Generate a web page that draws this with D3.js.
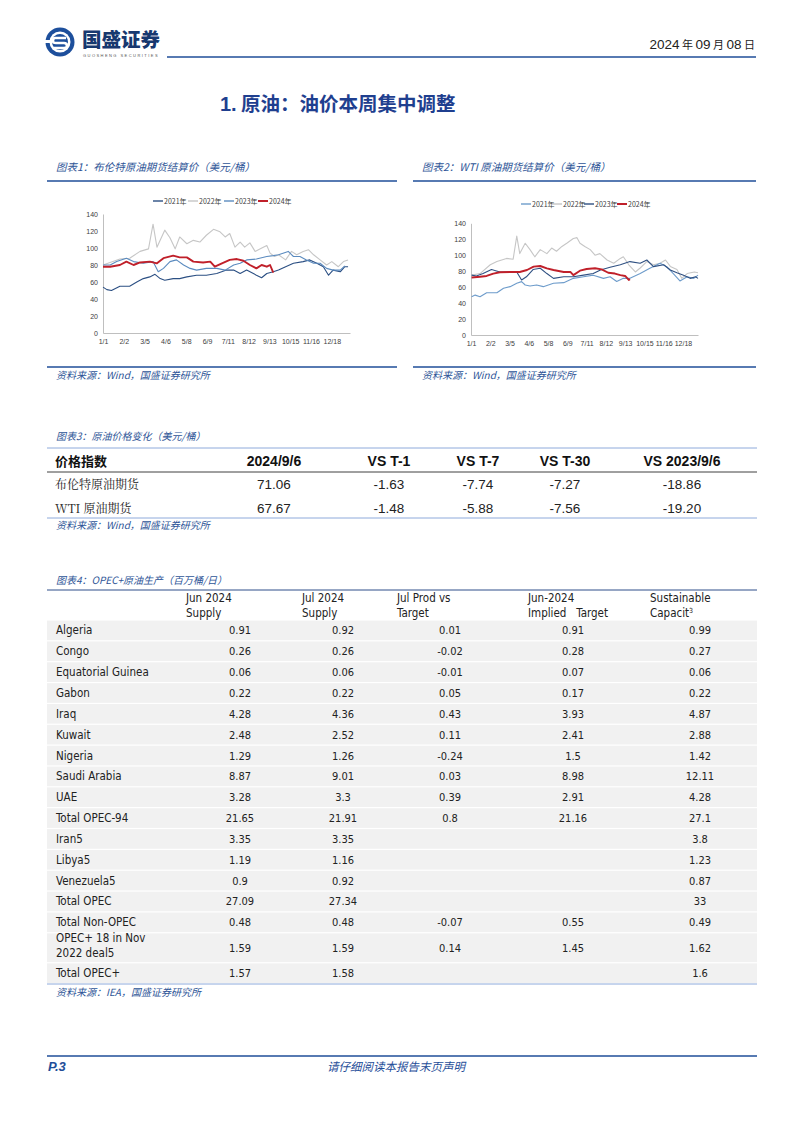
<!DOCTYPE html>
<html><head><meta charset="utf-8">
<script src="https://cdn.jsdelivr.net/npm/d3@7"></script>
<style>body{margin:0;background:#fff} svg{display:block} .pre{white-space:pre}</style>
</head><body>
<script>
// ---------- DATA ----------
const tickLabels = ["1/1","2/2","3/5","4/6","5/8","6/9","7/11","8/12","9/13","10/15","11/16","12/18"];
const tickDays   = [1,33,65,97,129,161,193,225,257,289,321,353];
const yTicks = [0,20,40,60,80,100,120,140];
const years = ["2021年","2022年","2023年","2024年"];

// Brent settlement [day-of-axis, USD/bbl]
const brent2021 = [[1,54],[7,51],[14,50],[27,55],[42,55],[53,60],[63,64],[73,66],[81,69],[89,64],[96,62],[109,64],[119,64],[130,66],[145,68],[160,68],[176,70],[191,74],[202,74],[212,70],[222,74],[237,68],[245,65],[253,70],[263,72],[271,74],[282,78],[294,82],[309,84],[319,86],[330,82],[340,78],[348,68],[355,74],[366,72],[373,78],[378,78]];
const brent2022 = [[1,80],[27,87],[42,88],[58,96],[71,99],[78,128],[84,101],[96,121],[104,112],[112,99],[119,113],[130,105],[140,109],[150,107],[160,115],[171,122],[181,119],[189,113],[196,117],[204,101],[212,107],[219,101],[227,106],[235,96],[243,99],[253,103],[258,94],[265,90],[271,92],[282,86],[291,96],[299,92],[309,96],[317,98],[325,92],[335,86],[345,80],[353,84],[363,78],[371,84],[378,86]];
const brent2023 = [[1,80],[12,80],[22,84],[37,88],[48,84],[63,82],[78,84],[86,72],[94,76],[104,84],[114,86],[125,80],[135,76],[145,74],[160,76],[176,76],[189,74],[202,80],[212,82],[222,86],[237,87],[253,90],[263,91],[271,92],[286,96],[294,90],[304,90],[314,86],[325,82],[335,82],[345,76],[355,74],[366,74],[373,79]];
const brent2024 = [[1,78],[12,78],[27,80],[37,84],[48,80],[58,83],[73,84],[84,82],[94,88],[109,91],[119,89],[130,89],[140,84],[155,83],[166,84],[173,78],[184,82],[196,86],[207,87],[217,85],[227,80],[237,76],[245,80],[253,78],[258,80],[263,71]];

// WTI settlement [day-of-axis, USD/bbl]
const wti2021 = [[2,48],[8,50],[16,48],[27,53],[44,53],[55,58.5],[66,60.6],[77,64.8],[85,66.9],[91,62.7],[99,61.4],[110,62.7],[121,60.6],[138,64.8],[155,65.6],[171,71],[188,73],[204,75],[221,71],[232,73],[243,67],[254,71],[265,71],[282,77],[298,83.6],[315,90],[326,85.7],[337,77],[348,67.7],[360,73],[371,71],[378,75]];
const wti2022 = [[2,75],[16,77],[33,88],[44,92],[60,96],[71,95],[77,124],[82,102],[91,115],[99,107],[107,98],[116,107],[127,102],[135,109],[143,105],[152,111],[160,115],[171,121],[177,122],[182,115],[190,111],[199,107],[207,100],[215,102],[227,94],[238,90],[249,96],[254,98],[263,88],[274,79],[282,84],[293,92],[304,88],[315,90],[324,94],[332,86],[343,82],[351,71],[360,77],[372,79],[378,78]];
const wti2023 = [[2,75],[10,74],[21,77],[35,82],[49,79],[66,79],[77,79],[85,69],[93,73],[104,82],[116,83.6],[127,77],[138,71],[155,73],[171,73],[188,75],[204,77],[216,81.5],[232,85],[249,88],[265,92],[282,90],[293,94],[304,85.7],[321,88],[332,81.5],[343,78],[354,75],[365,71],[374,73],[378,71]];
const wti2024 = [[2,72],[16,73],[27,74],[38,77],[49,78.6],[66,79],[82,79],[94,81.5],[105,85.7],[116,86.5],[127,83.6],[138,81.5],[155,79],[166,79],[171,75],[182,80.6],[193,82.7],[207,83.6],[218,82.3],[229,78],[240,77],[249,75],[257,74],[263,69],[265,70]];

// Table 3
const t3Header = ["价格指数","2024/9/6","VS T-1","VS T-7","VS T-30","VS 2023/9/6"];
const t3Names  = ["布伦特原油期货","WTI 原油期货"];
const t3Values = [[71.06,-1.63,-7.74,-7.27,-18.86],[67.67,-1.48,-5.88,-7.56,-19.20]];

// Table 4
const t4Header = [["Jun 2024","Supply"],["Jul 2024","Supply"],["Jul Prod vs","Target"],["Jun-2024","Implied   Target"],["Sustainable","Capacit"]];
const t4Names = ["Algeria","Congo","Equatorial Guinea","Gabon","Iraq","Kuwait","Nigeria","Saudi Arabia","UAE","Total OPEC-94","Iran5","Libya5","Venezuela5","Total OPEC","Total Non-OPEC","OPEC+ 18 in Nov|2022 deal5","Total OPEC+"];
const t4Values = [
 ["0.91","0.92","0.01","0.91","0.99"],
 ["0.26","0.26","-0.02","0.28","0.27"],
 ["0.06","0.06","-0.01","0.07","0.06"],
 ["0.22","0.22","0.05","0.17","0.22"],
 ["4.28","4.36","0.43","3.93","4.87"],
 ["2.48","2.52","0.11","2.41","2.88"],
 ["1.29","1.26","-0.24","1.5","1.42"],
 ["8.87","9.01","0.03","8.98","12.11"],
 ["3.28","3.3","0.39","2.91","4.28"],
 ["21.65","21.91","0.8","21.16","27.1"],
 ["3.35","3.35","","","3.8"],
 ["1.19","1.16","","","1.23"],
 ["0.9","0.92","","","0.87"],
 ["27.09","27.34","","","33"],
 ["0.48","0.48","-0.07","0.55","0.49"],
 ["1.59","1.59","0.14","1.45","1.62"],
 ["1.57","1.58","","","1.6"]
];

// ---------- DRAW ----------
const W=802,H=1133;
const BLUE="#1f4e99", TBLUE="#2e5597";
const CJK="'Noto Sans CJK SC','Noto Sans',sans-serif";
const SANS="'Liberation Sans',Arial,sans-serif";
const svg=d3.select("body").append("svg").attr("width",W).attr("height",H);
svg.append("rect").attr("width",W).attr("height",H).attr("fill","#fff");

// header logo
const lg=svg.append("g").attr("transform","translate(60,42)");
lg.append("circle").attr("r",14.5).attr("fill","#1d4f9c");
lg.append("circle").attr("r",10.5).attr("fill","#fff");
lg.append("circle").attr("r",8).attr("fill","#1d4f9c");
lg.append("path").attr("d","M6,-4 L-5,-4 Q-7,-4 -7,-1 Q-7,1 -4,1 L4,1 Q7,1 7,4 Q7,6 4,6 L-6,6").attr("fill","none").attr("stroke","#fff").attr("stroke-width",2.6);
lg.append("rect").attr("x",-16).attr("y",-2).attr("width",6).attr("height",3).attr("fill","#fff");
svg.append("text").attr("x",82).attr("y",47).text("国盛证券")
  .attr("font-family","'Noto Sans CJK SC'").attr("font-weight",900).attr("font-size",19.5).attr("fill","#17386f");
svg.append("text").attr("x",83).attr("y",57).text("GUOSHENG SECURITIES")
  .attr("font-family",SANS).attr("font-size",4).attr("letter-spacing",1.45).attr("fill","#555");
svg.append("line").attr("x1",167).attr("x2",756).attr("y1",57).attr("y2",57).attr("stroke",BLUE).attr("stroke-width",1.5);
const dt=svg.append("text").attr("x",755).attr("y",49).attr("text-anchor","end").attr("font-family",SANS).attr("font-size",13.5).attr("fill","#222").attr("class","pre");
[["2024",0],[" 年 ",1],["09",0],[" 月 ",1],["08",0],[" 日",1]].forEach(([s,c])=>{
  dt.append("tspan").text(s).attr("font-size",c?11:13.5).attr("font-family",c?CJK:SANS);
});

// section title
const st=svg.append("text").attr("x",220).attr("y",111).attr("fill","#1f3f8f").attr("font-weight","bold");
st.append("tspan").text("1.").attr("font-family",SANS).attr("font-size",20);
st.append("tspan").text(" 原油：油价本周集中调整").attr("font-family",CJK).attr("font-size",19.5);

function caption(x,y,text,size){
  svg.append("text").attr("x",x).attr("y",y).text(text).attr("font-family",CJK).attr("font-size",size||10.5)
    .attr("font-style","italic").attr("fill",TBLUE);
}
function hline(x1,x2,y,col,w){svg.append("line").attr("x1",x1).attr("x2",x2).attr("y1",y).attr("y2",y).attr("stroke",col).attr("stroke-width",w);}

// ---------- CHARTS ----------
function chart(opt){
  const g=svg.append("g");
  const x=d3.scaleLinear().domain([1,opt.xEnd]).range([opt.x0,opt.x1]);
  const y=d3.scaleLinear().domain([0,140]).range([opt.y0,opt.y1]);
  const ya=g.append("g").attr("transform",`translate(${opt.x0},0)`).call(d3.axisLeft(y).tickValues(yTicks).tickSize(0).tickPadding(5));
  ya.select(".domain").attr("stroke","#bfbfbf");
  ya.selectAll("text").attr("font-family",SANS).attr("font-size",7).attr("fill","#404040");
  const xa=g.append("g").attr("transform",`translate(0,${opt.y0})`).call(d3.axisBottom(x).tickValues(tickDays).tickFormat((d,i)=>tickLabels[i]).tickSize(0).tickPadding(6));
  xa.select(".domain").attr("stroke","#bfbfbf");
  xa.selectAll("text").attr("font-family",SANS).attr("font-size",7).attr("fill","#404040");
  const line=d3.line().x(d=>x(d[0])).y(d=>y(d[1]));
  [1,0,2,3].forEach(i=>{
    g.append("path").datum(opt.series[i]).attr("d",line).attr("fill","none")
      .attr("stroke",opt.colors[i]).attr("stroke-width",i===3?1.9:1.1).attr("stroke-linejoin","round");
  });
  years.forEach((yr,i)=>{
    const lx=opt.legX[i];
    g.append("line").attr("x1",lx).attr("x2",lx+10).attr("y1",opt.legY).attr("y2",opt.legY)
      .attr("stroke",opt.colors[i]).attr("stroke-width",i===3?2:1.4);
    g.append("text").attr("x",lx+11).attr("y",opt.legY+2.5).text(yr).attr("font-family",CJK).attr("font-size",7).attr("fill","#404040");
  });
}

caption(56,171,"图表1：布伦特原油期货结算价（美元/桶）");
hline(47,397,181,BLUE,1.3);
chart({x0:103,x1:350,xEnd:381,y0:333,y1:214,legY:201,legX:[153,188,224,258],
  series:[brent2021,brent2022,brent2023,brent2024],
  colors:["#2b4f83","#c6c6c6","#5b8bbf","#c0202a"]});
hline(47,397,367,BLUE,1.3);
caption(56,379,"资料来源：Wind，国盛证券研究所",10);

caption(422,171,"图表2：WTI 原油期货结算价（美元/桶）");
hline(413,756,181,BLUE,1.3);
chart({x0:471,x1:698,xEnd:378,y0:335,y1:223.3,legY:204,legX:[521,552,584,617],
  series:[wti2021,wti2022,wti2023,wti2024],
  colors:["#6e9ccb","#c6c6c6","#2f5082","#c0202a"]});
hline(413,756,367,BLUE,1.3);
caption(422,379,"资料来源：Wind，国盛证券研究所",10);

// ---------- TABLE 3 ----------
caption(56,440,"图表3：原油价格变化（美元/桶）",10);
hline(47,757,448,"#8eaadb",1);
const t3Cols=[274,389,478,565,682];
svg.append("text").attr("x",55).attr("y",466).text(t3Header[0]).attr("font-family",CJK).attr("font-weight","bold").attr("font-size",13).attr("fill","#111");
t3Header.slice(1).forEach((h,i)=>{
  svg.append("text").attr("x",t3Cols[i]).attr("y",466).attr("text-anchor","middle").text(h)
    .attr("font-family",SANS).attr("font-weight","bold").attr("font-size",14).attr("fill","#111");
});
hline(47,757,472,"#404040",1);
t3Names.forEach((n,r)=>{
  const yy=489+r*24;
  svg.append("text").attr("x",55).attr("y",yy).text(n).attr("font-family","'Noto Serif CJK SC','Noto Sans CJK SC',serif").attr("font-size",12).attr("fill","#222");
  t3Values[r].forEach((v,i)=>{
    svg.append("text").attr("x",t3Cols[i]).attr("y",yy).attr("text-anchor","middle").text(v.toFixed(2))
      .attr("font-family","'Liberation Sans Narrow','Liberation Sans',sans-serif").attr("font-size",13.5).attr("fill","#222");
  });
});
hline(47,757,518,"#8eaadb",1);
caption(56,529,"资料来源：Wind，国盛证券研究所",10);

// ---------- TABLE 4 ----------
caption(56,584,"图表4：OPEC+原油生产（百万桶/日）",10);
hline(47,757,590,"#2e4f8a",1);
const T4F="'DejaVu Sans Condensed','DejaVu Sans',sans-serif";
const t4Cols=[240,343,450,573,700];
const t4HeadX=[186,302,397,528,650];
t4Header.forEach((h,i)=>{
  h.forEach((s,k)=>{
    const t=svg.append("text").attr("x",t4HeadX[i]).attr("y",602+k*15).text(s).attr("class","pre")
      .attr("font-family",T4F).attr("font-size",11.5).attr("fill","#222");
    if(i===4&&k===1) t.append("tspan").text("3").attr("font-size",7).attr("dy",-4);
  });
});
let yCur=620;
t4Names.forEach((n,r)=>{
  const two=n.includes("|");
  const h= two?30:20.85;
  svg.append("rect").attr("x",47).attr("y",yCur+0.6).attr("width",710).attr("height",h-1.2).attr("fill","#f1f1f1");
  const cy=yCur+h/2;
  if(two){
    n.split("|").forEach((s,k)=>svg.append("text").attr("x",56).attr("y",cy-6+k*15).text(s).attr("font-family",T4F).attr("font-size",11.5).attr("fill","#222"));
  } else {
    svg.append("text").attr("x",56).attr("y",cy+4).text(n).attr("font-family",T4F).attr("font-size",11.5).attr("fill","#222");
  }
  t4Values[r].forEach((v,i)=>{
    if(v==="")return;
    svg.append("text").attr("x",t4Cols[i]).attr("y",cy+4).attr("text-anchor","middle").text(v).attr("font-family",T4F).attr("font-size",11).attr("fill","#222");
  });
  yCur+=h;
});
hline(47,757,984,"#8eaadb",1);
caption(56,996,"资料来源：IEA，国盛证券研究所",10);

// ---------- FOOTER ----------
hline(47,757,1056,BLUE,1.5);
svg.append("text").attr("x",48).attr("y",1071).text("P.3").attr("font-family",SANS).attr("font-weight","bold").attr("font-style","italic").attr("font-size",13).attr("fill",BLUE);
svg.append("text").attr("x",396).attr("y",1071).attr("text-anchor","middle").text("请仔细阅读本报告末页声明")
  .attr("font-family",CJK).attr("font-style","italic").attr("font-size",11.5).attr("fill",BLUE);
</script>
</body></html>
